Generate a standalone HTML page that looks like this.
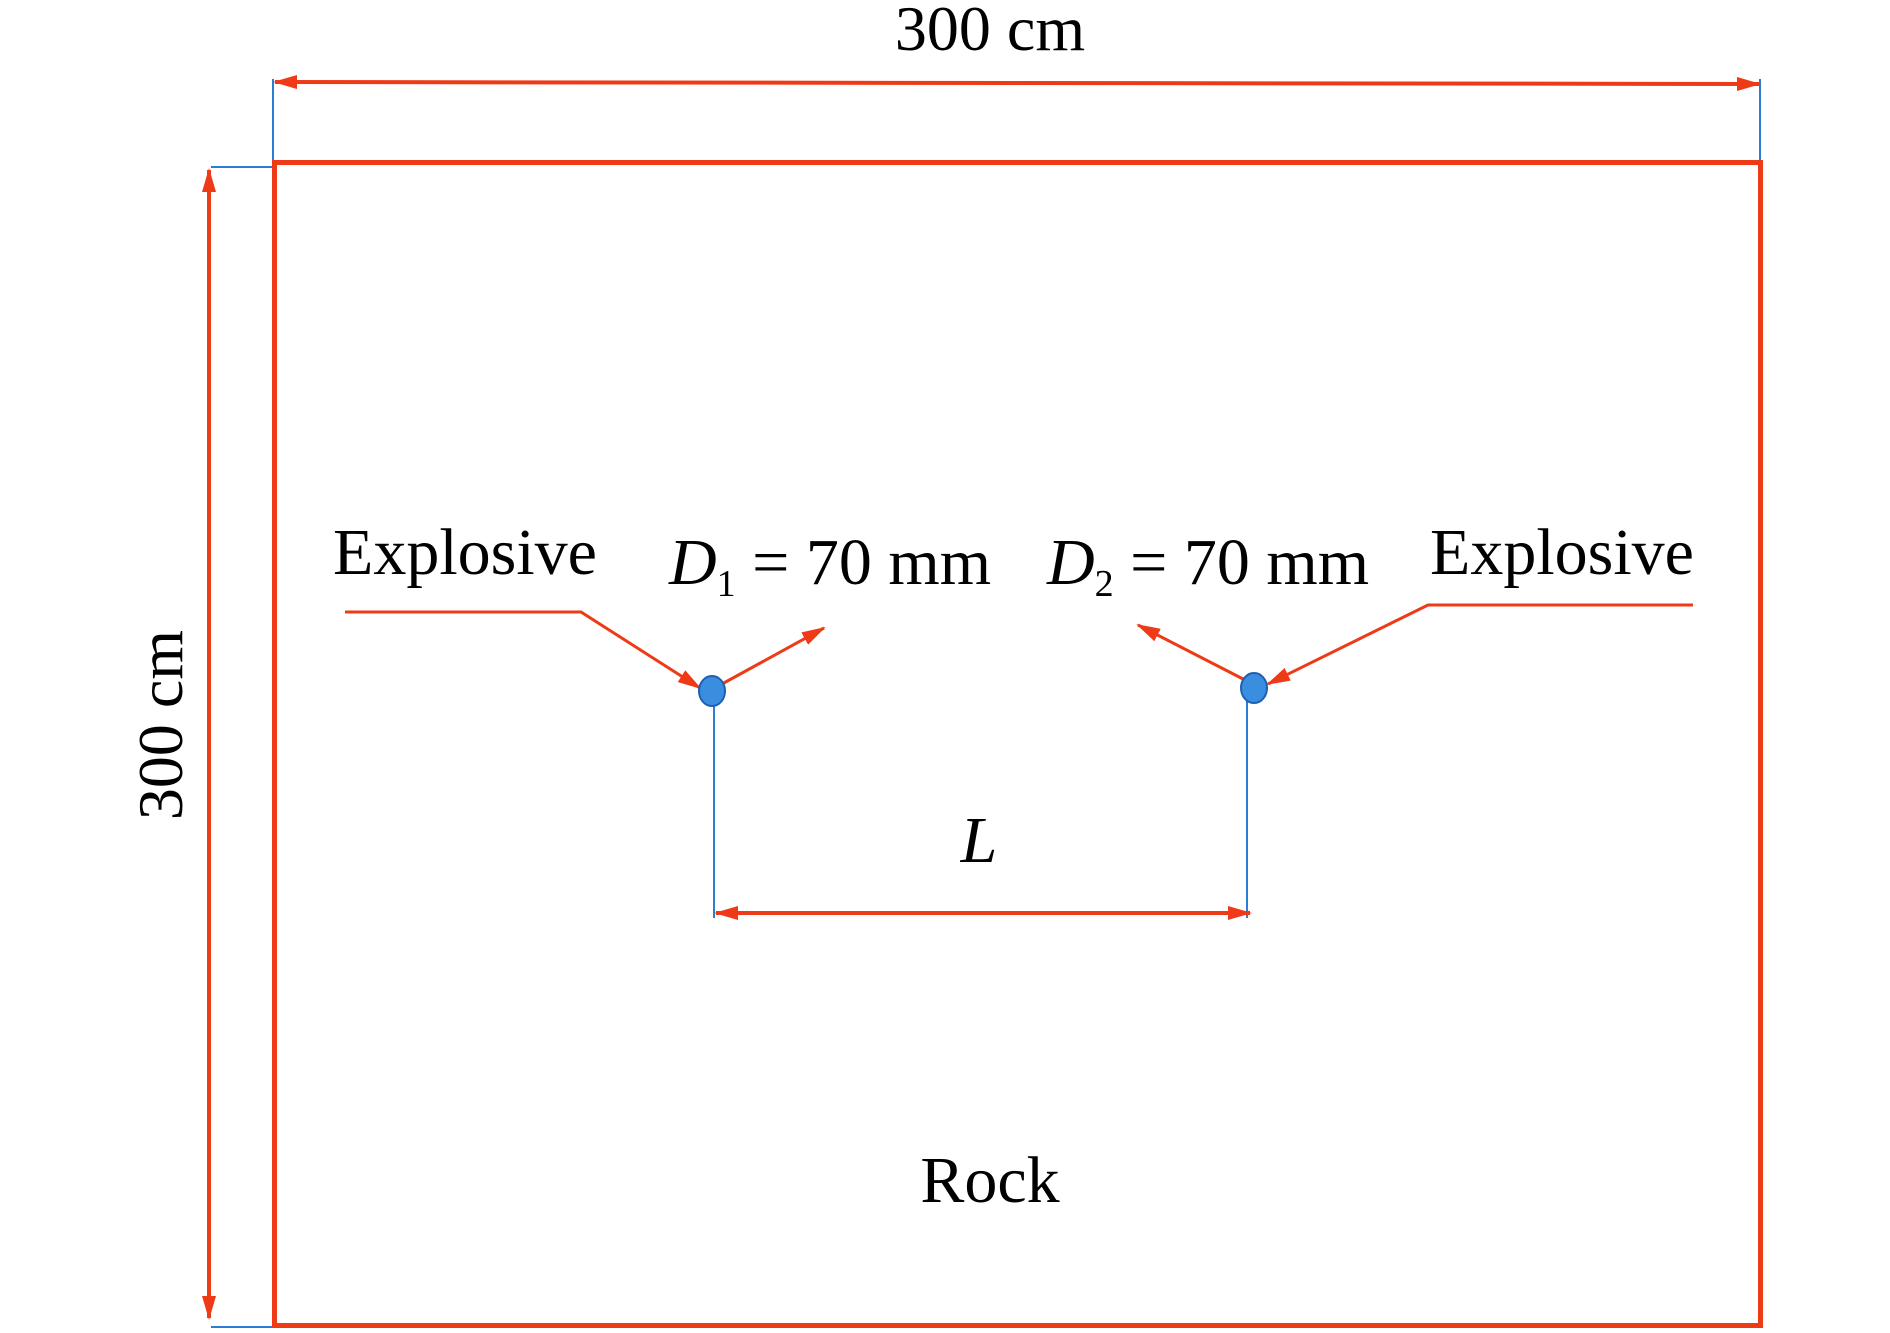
<!DOCTYPE html>
<html><head><meta charset="utf-8"><style>
html,body{margin:0;padding:0;background:#fff;}
svg{display:block;}
text{font-family:"Liberation Serif",serif;fill:#000;}
</style></head><body>
<svg width="1890" height="1333" viewBox="0 0 1890 1333" xmlns="http://www.w3.org/2000/svg">
<defs>
<marker id="a" viewBox="0 0 24 14" refX="22" refY="7" markerWidth="24" markerHeight="14" orient="auto-start-reverse" markerUnits="userSpaceOnUse">
<path d="M0,0 L24,7 L0,14 z" fill="#ee3a16"/>
</marker>
</defs>
<g stroke="#2a7fd4" stroke-width="2" fill="none">
<line x1="273" y1="79" x2="273" y2="162"/>
<line x1="1760" y1="79" x2="1760" y2="162"/>
<line x1="211" y1="167" x2="274" y2="167"/>
<line x1="211" y1="1327" x2="274" y2="1327"/>
<line x1="714" y1="700" x2="714" y2="918"/>
<line x1="1247" y1="698" x2="1247" y2="918"/>
</g>
<rect x="274.5" y="162.5" width="1486" height="1163" fill="none" stroke="#ee3a16" stroke-width="5"/>
<g stroke="#ee3a16" stroke-width="4" fill="none">
<line x1="275" y1="82" x2="1759" y2="84" marker-start="url(#a)" marker-end="url(#a)"/>
<line x1="209" y1="170" x2="209" y2="1318" marker-start="url(#a)" marker-end="url(#a)"/>
<line x1="716" y1="913" x2="1250" y2="913" marker-start="url(#a)" marker-end="url(#a)"/>
</g>
<g stroke="#ee3a16" stroke-width="3" fill="none">
<polyline points="345,612 581,612 700,688" marker-end="url(#a)"/>
<line x1="722" y1="684" x2="824" y2="628" marker-end="url(#a)"/>
<polyline points="1693,605 1428,605 1268,684" marker-end="url(#a)"/>
<line x1="1245" y1="680" x2="1138" y2="625" marker-end="url(#a)"/>
</g>
<ellipse cx="712" cy="691" rx="13" ry="15" fill="#3a8ee0" stroke="#1f5fb0" stroke-width="2"/>
<ellipse cx="1254" cy="688" rx="13" ry="15" fill="#3a8ee0" stroke="#1f5fb0" stroke-width="2"/>
<text x="990" y="50" font-size="64" text-anchor="middle">300 cm</text>
<text transform="translate(182,725) rotate(-90)" font-size="64" text-anchor="middle">300 cm</text>
<text x="333" y="574" font-size="66">Explosive</text>
<text x="1430" y="574" font-size="66">Explosive</text>
<text x="669" y="584" font-size="66"><tspan font-style="italic">D</tspan><tspan font-size="38" dy="12">1</tspan><tspan dy="-12"> = 70 mm</tspan></text>
<text x="1047" y="584" font-size="66"><tspan font-style="italic">D</tspan><tspan font-size="38" dy="12">2</tspan><tspan dy="-12"> = 70 mm</tspan></text>
<text x="979" y="862" font-size="66" font-style="italic" text-anchor="middle">L</text>
<text x="990" y="1202" font-size="66" text-anchor="middle">Rock</text>
</svg>
</body></html>
